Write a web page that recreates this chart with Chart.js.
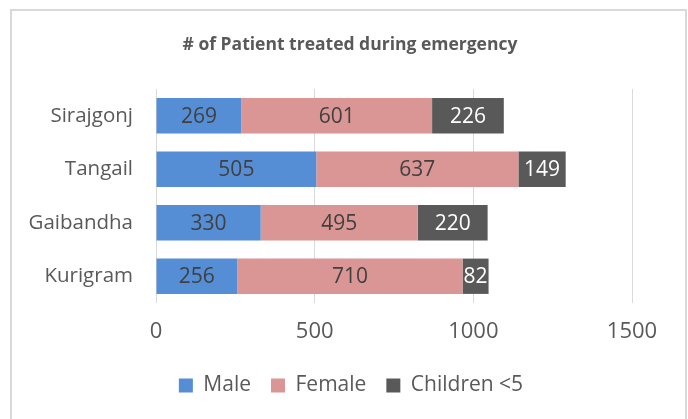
<!DOCTYPE html>
<html>
<head>
<meta charset="utf-8">
<script src="https://cdn.jsdelivr.net/npm/chart.js@4/dist/chart.umd.min.js"></script>
<style>
  html, body { margin: 0; padding: 0; background: #fff; overflow: hidden; }
  #wrap { position: relative; width: 688px; height: 419px; }
  #frame { position: absolute; left: 10px; top: 9px; width: 677px; height: 420px; border: 2px solid #d9d9d9; box-sizing: border-box; }
  #chart { position: absolute; left: 0; top: 0; }
</style>
</head>
<body>
<div id="wrap">
  <div id="frame"></div>
  <canvas id="chart" width="688" height="419"></canvas>
</div>
<script>
var districts = ['Sirajgonj', 'Tangail', 'Gaibandha', 'Kurigram'];
var male = [269, 505, 330, 256];
var female = [601, 637, 495, 710];
var children = [226, 149, 220, 82];
var xTicks = [0, 500, 1000, 1500];

var fontName = '"Open Sans", "Noto Sans", sans-serif';

// write the value in the middle of each bar piece
var barLabels = {
    id: 'barLabels',
    afterDatasetsDraw: function(chart) {
        var ctx = chart.ctx;
        ctx.save();
        ctx.font = '21px ' + fontName;
        ctx.textAlign = 'center';
        ctx.textBaseline = 'middle';
        chart.data.datasets.forEach(function(ds, i) {
            var meta = chart.getDatasetMeta(i);
            ctx.fillStyle = ds.labelColor;
            meta.data.forEach(function(bar, j) {
                ctx.fillText(ds.data[j], (bar.x + bar.base) / 2, bar.y + 1);
            });
        });
        ctx.restore();
    }
};

// title and legend are centred on the whole frame, not on the padded box
var centreOnFrame = {
    id: 'centreOnFrame',
    afterLayout: function(chart) {
        chart.titleBlock.left += 28;
        chart.titleBlock.right += 28;
        chart.legend.left += 29;
        chart.legend.right += 29;
    }
};

var ctx = document.getElementById('chart').getContext('2d');
var myChart = new Chart(ctx, {
    type: 'bar',
    data: {
        labels: districts,
        datasets: [{
            label: 'Male',
            data: male,
            backgroundColor: '#558ed5',
            labelColor: '#404040'
        }, {
            label: 'Female',
            data: female,
            backgroundColor: '#d99694',
            labelColor: '#404040'
        }, {
            label: 'Children <5',
            data: children,
            backgroundColor: '#595959',
            labelColor: '#ffffff'
        }]
    },
    options: {
        indexAxis: 'y',
        responsive: false,
        animation: false,
        categoryPercentage: 1,
        barPercentage: 0.66,
        layout: { padding: { left: 12, right: 56, top: 0, bottom: 13 } },
        plugins: {
            title: {
                display: true,
                text: '# of Patient treated during emergency',
                color: '#595959',
                font: { family: fontName, size: 17.5, weight: 'bold' },
                padding: { top: 35, bottom: 33 }
            },
            legend: {
                position: 'bottom',
                labels: {
                    color: '#595959',
                    font: { family: fontName, size: 21 },
                    boxWidth: 14,
                    boxHeight: 14,
                    padding: 20
                }
            },
            tooltip: { enabled: false }
        },
        scales: {
            x: {
                stacked: true,
                min: 0,
                max: 1500,
                afterBuildTicks: function(scale) {
                    scale.ticks = xTicks.map(function(v) { return { value: v }; });
                },
                afterFit: function(scale) { scale.height = 52; },
                grid: { color: '#d9d9d9', drawTicks: false },
                border: { display: false },
                ticks: {
                    color: '#595959',
                    font: { family: fontName, size: 22 },
                    padding: 16,
                    callback: function(v) { return String(v); }
                }
            },
            y: {
                stacked: true,
                grid: { display: false },
                border: { display: false },
                afterFit: function(scale) { scale.width = 144; },
                ticks: {
                    color: '#595959',
                    font: { family: fontName, size: 20.5 },
                    padding: 15
                }
            }
        }
    },
    plugins: [barLabels, centreOnFrame]
});
</script>
</body>
</html>
